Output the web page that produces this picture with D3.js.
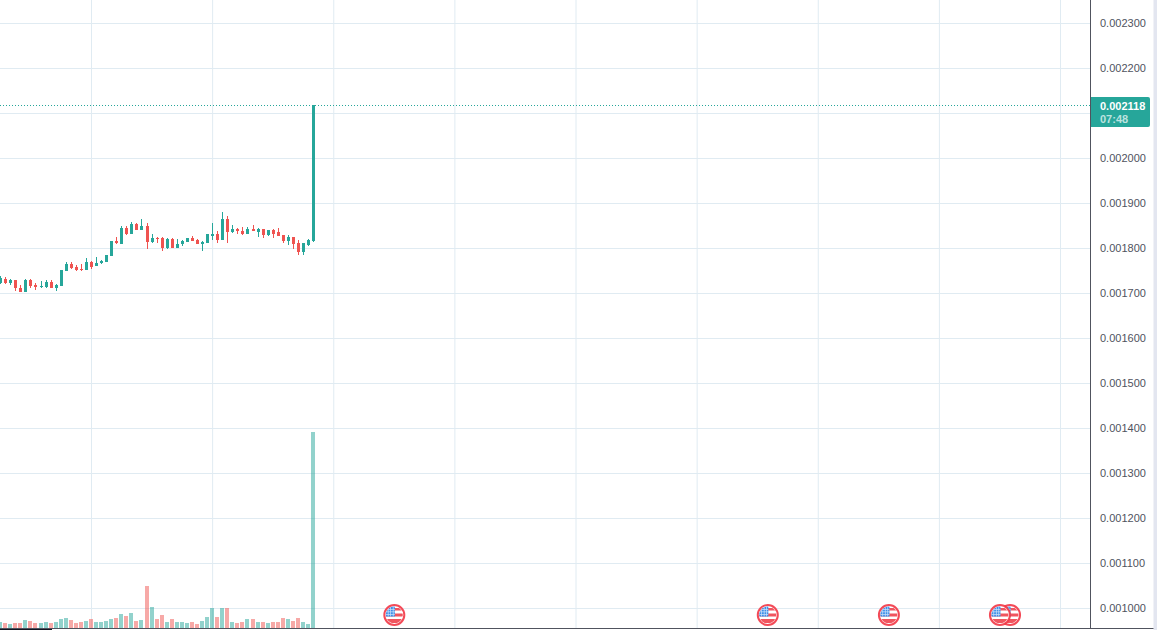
<!DOCTYPE html>
<html>
<head>
<meta charset="utf-8">
<script src="https://cdn.jsdelivr.net/npm/d3@7"></script>
<style>
  html, body { margin: 0; padding: 0; background: #fff; overflow: hidden; }
  svg { display: block; }
  text { font-family: "Liberation Sans", Arial, sans-serif; font-size: 11px; }
</style>
</head>
<body>
<script>
// prices are in millionths (1818.5 = 0.0018185)
var opens = [1723.7,1733.3,1723,1729.6,1713.3,1703,1729.6,1718.5,1714.1,1714.1,1725.2,1711.9,1716.3,1749.6,1765.2,1758.5,1754.1,1751.9,1769.6,1760.7,1767.4,1769.6,1783,1816.3,1809.6,1845.2,1831.9,1854.1,1840.7,1849.6,1814.1,1823,1823,1800.7,1820.7,1800.7,1809.6,1814.1,1823,1818.5,1809.6,1811.9,1827.4,1831.9,1818.5,1865.2,1836.3,1843,1838.5,1831.9,1843,1836.3,1843,1829.6,1840.7,1836.3,1829.6,1816.3,1825.2,1811.9,1791.9,1807.4,1816.3];
var closes = [1734.1,1723,1729.6,1711.9,1703,1729.6,1716.3,1714.1,1716.3,1725.2,1711.9,1718.5,1751.9,1765.2,1756.3,1751.9,1751.9,1769.6,1758.5,1767.4,1771.9,1785.2,1816.3,1811.9,1845.2,1831.9,1854.1,1840.7,1849.6,1814.1,1823,1820.7,1800.7,1820.7,1800.7,1809.6,1816.3,1823,1816.3,1809.6,1814.1,1831.9,1831.9,1818.5,1865.2,1836.3,1843,1838.5,1831.9,1843,1838.5,1843,1829.6,1840.7,1831.9,1827.4,1816.3,1825.2,1809.6,1791.9,1811.9,1818.5,2118];
var highs = [1740,1735.6,1733.3,1731.1,1720,1731.9,1733.3,1724.4,1727.4,1731.1,1731.1,1722.2,1751.9,1769.6,1769.6,1763,1765.2,1778.5,1771.9,1780.7,1774.1,1785.2,1816.3,1825.2,1849.6,1849.6,1858.5,1856.3,1865.2,1856.3,1831.9,1825.2,1825.2,1823,1823,1820.7,1818.5,1823,1827.4,1820.7,1816.3,1831.9,1856.3,1838.5,1880.7,1871.8,1851.8,1845.2,1847.4,1847.4,1851.8,1845.2,1843,1840.7,1843,1845.2,1829.6,1829.6,1825.2,1818.5,1811.9,1820.7,2118];
var lows = [1722.2,1720.7,1718.5,1705.2,1703,1703,1712.6,1707.4,1711.9,1713.3,1711.9,1705.2,1716.3,1749.6,1754.1,1749.6,1749.6,1751.9,1754.1,1760.7,1765.2,1769.6,1783,1809.6,1809.6,1829.6,1831.9,1840.7,1840.7,1798.5,1811.9,1811.9,1794.1,1798.5,1800.7,1800.7,1805.2,1814.1,1816.3,1809.6,1794.1,1811.9,1818.5,1811.9,1818.5,1811.9,1834.1,1831.9,1829.6,1831.9,1838.5,1825.2,1823,1827.4,1823,1827.4,1811.9,1807.4,1798.5,1785.2,1785.2,1805.2,1814.1];
var volumes = [6,5,4,5,5,8,7,5,5,6,5,6,9,10,8,5,6,7,9,6,6,7,9,10,14,12,15,7,8,42,21,9,13,6,9,6,6,5,6,4,7,11,20,11,20,20,6,5,6,9,9,6,6,5,6,6,10,9,7,10,6,4,196];

var priceTicks = [2300,2200,2100,2000,1900,1800,1700,1600,1500,1400,1300,1200,1100,1000];
var timeTicks = [18,42,66,90,114,138,162,186,210];
var eventBars = [78,152,176,200,198];
var lastPrice = 2118;
var lastLabel = '0.002118';
var countdown = '07:48';

var width = 1157, height = 630;
var axisX = 1091, bottomY = 628;
var up = '#26a69a', down = '#ef5350', gridColor = '#e0ebf2', axisColor = '#50535e';

var fmt = function(d) { return (d / 1e6).toFixed(6); };

var x = d3.scaleLinear().domain([18, 210]).range([91.5, 1060.5]);
var y = d3.scaleLinear().domain([1000, 2300]).range([608.5, 23.5]);
var v = d3.scaleLinear().domain([0, 196]).range([bottomY, 432]);

var svg = d3.select('body').append('svg')
    .attr('width', width)
    .attr('height', height);

// grid
svg.append('g').selectAll('line')
    .data(priceTicks)
    .join('line')
    .attr('x1', 0).attr('x2', axisX)
    .attr('y1', function(d) { return y(d); })
    .attr('y2', function(d) { return y(d); })
    .attr('stroke', gridColor);

svg.append('g').selectAll('line')
    .data(timeTicks)
    .join('line')
    .attr('x1', function(d) { return x(d); })
    .attr('x2', function(d) { return x(d); })
    .attr('y1', 0).attr('y2', bottomY)
    .attr('stroke', gridColor);

var idx = d3.range(closes.length);
var isUp = function(i) { return closes[i] >= opens[i]; };
var colour = function(i) { return isUp(i) ? up : down; };
var snap = function(i) { return Math.round(x(i) - 1.5); };

// volume
svg.append('g').attr('shape-rendering', 'crispEdges').selectAll('rect')
    .data(idx)
    .join('rect')
    .attr('x', function(i) { return snap(i) - 1; })
    .attr('width', 4)
    .attr('y', function(i) { return Math.round(v(volumes[i])); })
    .attr('height', function(i) { return bottomY - Math.round(v(volumes[i])); })
    .attr('fill', colour)
    .attr('fill-opacity', 0.5);

// candles
var candles = svg.append('g').attr('shape-rendering', 'crispEdges');

candles.selectAll('.wick')
    .data(idx)
    .join('rect')
    .attr('class', 'wick')
    .attr('x', function(i) { return snap(i) + 1; })
    .attr('width', 1)
    .attr('y', function(i) { return Math.round(y(highs[i])); })
    .attr('height', function(i) { return Math.max(1, Math.round(y(lows[i])) - Math.round(y(highs[i]))); })
    .attr('fill', colour);

candles.selectAll('.body')
    .data(idx)
    .join('rect')
    .attr('class', 'body')
    .attr('x', function(i) { return snap(i); })
    .attr('width', 3)
    .attr('y', function(i) { return Math.round(y(Math.max(opens[i], closes[i]))); })
    .attr('height', function(i) {
        return Math.max(1, Math.round(y(Math.min(opens[i], closes[i]))) - Math.round(y(Math.max(opens[i], closes[i]))));
    })
    .attr('fill', colour);

// last price line
var lastY = Math.floor(y(lastPrice)) + 0.5;
svg.append('line')
    .attr('x1', 0).attr('x2', axisX)
    .attr('y1', lastY).attr('y2', lastY)
    .attr('stroke', up)
    .attr('stroke-dasharray', '1 2');

// event flags
var defs = svg.append('defs');
defs.append('clipPath').attr('id', 'flagClip')
    .append('circle').attr('r', 8.5);

var flags = svg.append('g').selectAll('g')
    .data(eventBars)
    .join('g')
    .attr('transform', function(d) { return 'translate(' + x(d) + ',615)'; });

flags.append('circle').attr('r', 10).attr('fill', '#fff').attr('stroke', '#f23645').attr('stroke-opacity', 0.9).attr('stroke-width', 2);

var flagBody = flags.append('g').attr('clip-path', 'url(#flagClip)');
[[-7, 2.5], [-1.5, 3], [4, 4]].forEach(function(s) {
    flagBody.append('rect')
        .attr('x', -9).attr('width', 18)
        .attr('y', s[0]).attr('height', s[1])
        .attr('fill', '#f0555f');
});
flagBody.append('rect')
    .attr('x', -9).attr('y', -9).attr('width', 9.5).attr('height', 10.5)
    .attr('fill', '#3d8fe8');
[-6, -3.5, -1].forEach(function(p) {
    flagBody.append('rect').attr('x', -9).attr('width', 9.5).attr('y', p).attr('height', 0.7).attr('fill', '#cfe3fa');
    flagBody.append('rect').attr('y', -9).attr('height', 10.5).attr('x', p - 0.5).attr('width', 0.7).attr('fill', '#cfe3fa');
});

// right price axis, the last price label sits where 0.002100 would be
var axis = d3.axisRight(y)
    .tickValues(priceTicks.filter(function(d) { return Math.abs(y(d) - y(lastPrice)) > 15; }))
    .tickSize(0)
    .tickPadding(9)
    .offset(0)
    .tickFormat(fmt);

var axisG = svg.append('g')
    .attr('transform', 'translate(' + axisX + ',0)')
    .call(axis);
axisG.select('.domain').remove();
axisG.selectAll('text')
    .attr('fill', '#50535e')
    .style('font-family', '"Liberation Sans", Arial, sans-serif')
    .style('font-size', '11px');

// page edge and frame lines
svg.append('rect')
    .attr('x', 1153.5).attr('y', 0).attr('width', 4).attr('height', height)
    .attr('fill', '#e3e6f0');
svg.append('line')
    .attr('x1', axisX - 0.5).attr('x2', axisX - 0.5)
    .attr('y1', 0).attr('y2', bottomY + 1)
    .attr('stroke', axisColor);
svg.append('line')
    .attr('x1', 0).attr('x2', 1153.5)
    .attr('y1', bottomY + 0.5).attr('y2', bottomY + 0.5)
    .attr('stroke', axisColor);
svg.append('rect')
    .attr('x', 0).attr('y', bottomY + 1).attr('width', 52).attr('height', 1)
    .attr('fill', '#131722');

// last price label
svg.append('path')
    .attr('d', 'M1091,97H1148a2,2 0 0 1 2,2V125a2,2 0 0 1 -2,2H1091Z')
    .attr('fill', up);
svg.append('text')
    .attr('x', 1100).attr('y', 109.5)
    .attr('fill', '#fff')
    .attr('font-weight', 'bold')
    .text(lastLabel);
svg.append('text')
    .attr('x', 1100).attr('y', 122.5)
    .attr('fill', '#fff')
    .attr('fill-opacity', 0.7)
    .attr('font-weight', 'bold')
    .text(countdown);
</script>
</body>
</html>
